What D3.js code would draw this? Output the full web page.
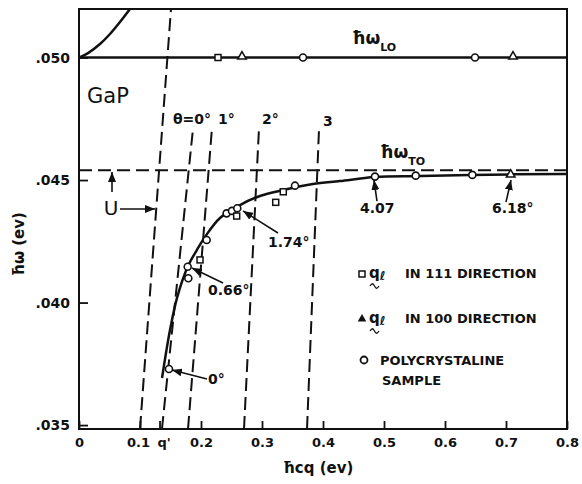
<!DOCTYPE html>
<html>
<head>
<meta charset="utf-8">
<script src="https://cdn.jsdelivr.net/npm/d3@7"></script>
<style>
  body { margin: 0; background: #fff; }
  text { font-family: "DejaVu Sans", sans-serif; fill: #111; }
</style>
</head>
<body>
<div id="chart"></div>
<script>

// ---- data ----
var xTicks = [0, 0.1, 0.2, 0.3, 0.4, 0.5, 0.6, 0.7, 0.8];
var xTickLabels = ["0", "0.1", "0.2", "0.3", "0.4", "0.5", "0.6", "0.7", "0.8"];
var yTicks = [0.035, 0.040, 0.045, 0.050];
var yTickLabels = [".035", ".040", ".045", ".050"];
var qPrime = 0.132;

var hwLO = 0.050;
var hwTO = 0.0454;

// lower polariton branch (solid curve)
var lowerQ = [0.1361, 0.1426, 0.1492, 0.1607, 0.1787, 0.1934, 0.2066, 0.2311, 0.2639, 0.2967, 0.3344, 0.3836, 0.4279, 0.4852, 0.5590, 0.6410, 0.7984];
var lowerW = [0.03692, 0.03794, 0.03888, 0.04019, 0.04149, 0.04215, 0.04268, 0.04345, 0.04398, 0.04435, 0.04459, 0.04484, 0.04496, 0.04512, 0.04516, 0.04521, 0.04525];

// upper branch (top-left corner)
var upperQ = [0, 0.0148, 0.0344, 0.0508, 0.0672, 0.0836];
var upperW = [0.0500, 0.05018, 0.05055, 0.05096, 0.05145, 0.05198];

// measured points
var circleQ = [0.1475, 0.1792, 0.1782, 0.2093, 0.2420, 0.2508, 0.2595, 0.3541, 0.4852, 0.5520, 0.6448, 0.3672, 0.6492];
var circleW = [0.03729, 0.04099, 0.04146, 0.04255, 0.04364, 0.04374, 0.04385, 0.04477, 0.04514, 0.04518, 0.04521, 0.0500, 0.0500];
var squareQ = [0.1984, 0.2585, 0.3225, 0.3349, 0.2279];
var squareW = [0.04174, 0.04353, 0.04409, 0.04452, 0.0500];
var triQ = [0.7077, 0.2672, 0.7115];
var triW = [0.04518, 0.0500, 0.0500];

// scattering angle lines (dashed): bottom and top end
var angleNames = ["U", "θ=0°", "1°", "2°", "3"];
var angleQ0 = [0.1000, 0.1360, 0.1787, 0.2705, 0.3738];
var angleW0 = [0.03484, 0.03484, 0.03484, 0.03484, 0.03484];
var angleQ1 = [0.1508, 0.1870, 0.2180, 0.2951, 0.3934];
var angleW1 = [0.05198, 0.04712, 0.04712, 0.04712, 0.04704];

// ---- layout ----
var W = 582, H = 484;
var margin = {top: 9, right: 15, bottom: 55, left: 79};

var svg = d3.select("#chart").append("svg")
    .attr("width", W)
    .attr("height", H);

var x = d3.scaleLinear().domain([0, 0.8]).range([margin.left, W - margin.right]);
var y = d3.scaleLinear().domain([0.03484, 0.05198]).range([H - margin.bottom, margin.top]);

var defs = svg.append("defs");
defs.append("marker")
    .attr("id", "arr")
    .attr("markerUnits", "userSpaceOnUse")
    .attr("viewBox", "0 0 10 8")
    .attr("refX", 10).attr("refY", 4)
    .attr("markerWidth", 10).attr("markerHeight", 8)
    .attr("orient", "auto")
  .append("path")
    .attr("d", "M0,0 L10,4 L0,8 Z")
    .attr("fill", "#111");
defs.append("clipPath").attr("id", "clip")
  .append("rect")
    .attr("x", x(0)).attr("y", y.range()[1])
    .attr("width", x(0.8) - x(0)).attr("height", y.range()[0] - y.range()[1]);

// axes
var xAxis = d3.axisBottom(x)
    .tickValues(xTicks.concat([qPrime]))
    .tickSize(-8)
    .tickPadding(9)
    .tickFormat(function(d) {
      var i = xTicks.indexOf(d);
      return i >= 0 ? xTickLabels[i] : "q'";
    });
var gx = svg.append("g")
    .attr("transform", "translate(0," + y.range()[0] + ")")
    .call(xAxis);
gx.select(".domain").remove();
gx.selectAll("line").attr("stroke", "#111").attr("stroke-width", 1.8);
gx.selectAll("text").attr("font-size", 13).attr("font-weight", "bold").style("font-family", "DejaVu Sans");
gx.selectAll("text").filter(function(d) { return d === qPrime; }).attr("dx", 4);
gx.selectAll("text").filter(function(d) { return d === 0.1; }).attr("dx", -2);

var yAxis = d3.axisLeft(y)
    .tickValues(yTicks)
    .tickSize(-9)
    .tickPadding(9)
    .tickFormat(function(d, i) { return yTickLabels[i]; });
var gy = svg.append("g")
    .attr("transform", "translate(" + x(0) + ",0)")
    .call(yAxis);
gy.select(".domain").remove();
gy.selectAll("line").attr("stroke", "#111").attr("stroke-width", 1.8);
gy.selectAll("text").attr("font-size", 14).attr("font-weight", "bold").style("font-family", "DejaVu Sans");

// frame
svg.append("rect")
    .attr("x", x(0)).attr("y", y.range()[1])
    .attr("width", x(0.8) - x(0)).attr("height", y.range()[0] - y.range()[1])
    .attr("fill", "none").attr("stroke", "#111").attr("stroke-width", 2);

var plot = svg.append("g").attr("clip-path", "url(#clip)");

// dashed angle lines
angleNames.forEach(function(n, i) {
  plot.append("line")
      .attr("x1", x(angleQ0[i])).attr("y1", y(angleW0[i]))
      .attr("x2", x(angleQ1[i])).attr("y2", y(angleW1[i]))
      .attr("stroke", "#111").attr("stroke-width", 2)
      .attr("stroke-dasharray", "13,6");
});

// TO dashed line
plot.append("line")
    .attr("x1", x(0)).attr("x2", x(0.8))
    .attr("y1", y(hwTO)).attr("y2", y(hwTO))
    .attr("stroke", "#111").attr("stroke-width", 2)
    .attr("stroke-dasharray", "13,6");

// LO solid line
plot.append("line")
    .attr("x1", x(0)).attr("x2", x(0.8))
    .attr("y1", y(hwLO)).attr("y2", y(hwLO))
    .attr("stroke", "#111").attr("stroke-width", 2.5);

var line = d3.line()
    .x(function(d) { return x(d[0]); })
    .y(function(d) { return y(d[1]); })
    .curve(d3.curveCatmullRom.alpha(0.5));

plot.append("path")
    .datum(lowerQ.map(function(q, i) { return [q, lowerW[i]]; }))
    .attr("d", line)
    .attr("fill", "none").attr("stroke", "#111").attr("stroke-width", 2.5);

plot.append("path")
    .datum(upperQ.map(function(q, i) { return [q, upperW[i]]; }))
    .attr("d", line)
    .attr("fill", "none").attr("stroke", "#111").attr("stroke-width", 2.5);

// markers
svg.append("g").selectAll("circle")
    .data(circleQ.map(function(q, i) { return [q, circleW[i]]; }))
    .enter().append("circle")
    .attr("cx", function(d) { return x(d[0]); })
    .attr("cy", function(d) { return y(d[1]); })
    .attr("r", 3.5)
    .attr("fill", "#fff").attr("stroke", "#111").attr("stroke-width", 1.6);

svg.append("g").selectAll("rect")
    .data(squareQ.map(function(q, i) { return [q, squareW[i]]; }))
    .enter().append("rect")
    .attr("x", function(d) { return x(d[0]) - 3; })
    .attr("y", function(d) { return y(d[1]) - 3; })
    .attr("width", 6).attr("height", 6)
    .attr("fill", "#fff").attr("stroke", "#111").attr("stroke-width", 1.5);

var tri = d3.symbol().type(d3.symbolTriangle).size(32);
svg.append("g").selectAll("path")
    .data(triQ.map(function(q, i) { return [q, triW[i]]; }))
    .enter().append("path")
    .attr("d", tri)
    .attr("transform", function(d) { return "translate(" + x(d[0]) + "," + (y(d[1]) - 1) + ")"; })
    .attr("fill", "#fff").attr("stroke", "#111").attr("stroke-width", 1.5);

// labels on the plot
function label(q, w, s, size, weight, anchor) {
  return svg.append("text")
      .attr("x", x(q)).attr("y", y(w))
      .attr("font-size", size)
      .attr("font-weight", weight || "bold")
      .attr("text-anchor", anchor || "start")
      .text(s);
}

label(0.0131, 0.04814, "GaP", 21, "normal");
label(0.0525, 0.04357, "U", 20, "normal", "middle");
label(0.1541, 0.04729, angleNames[1], 14);
label(0.2279, 0.04729, angleNames[2], 14);
label(0.3000, 0.04729, angleNames[3], 14);
label(0.4000, 0.04721, angleNames[4], 14);
label(0.3098, 0.04227, "1.74°", 14);
label(0.2115, 0.04031, "0.66°", 14);
label(0.2115, 0.03668, "0°", 14);
label(0.4607, 0.04365, "4.07", 14);
label(0.6770, 0.04365, "6.18°", 14);

var lo = svg.append("text").attr("x", x(0.4475)).attr("y", y(0.05055)).attr("font-weight", "bold");
lo.append("tspan").attr("font-size", 17).text("ħω");
lo.append("tspan").attr("font-size", 11).attr("dy", 7).text("LO");
var to = svg.append("text").attr("x", x(0.4934)).attr("y", y(0.04590)).attr("font-weight", "bold");
to.append("tspan").attr("font-size", 17).text("ħω");
to.append("tspan").attr("font-size", 11).attr("dy", 7).text("TO");

// arrows
var arrows = [
  [0.0672, 0.04382, 0.1246, 0.04382],
  [0.0541, 0.04451, 0.0541, 0.04533],
  [0.3262, 0.04284, 0.2689, 0.04374],
  [0.2361, 0.04080, 0.1852, 0.04141],
  [0.2098, 0.03688, 0.1525, 0.03725],
  [0.4885, 0.04414, 0.4836, 0.04500],
  [0.7000, 0.04410, 0.7082, 0.04500]
];
svg.append("g").selectAll("line")
    .data(arrows)
    .enter().append("line")
    .attr("x1", function(d) { return x(d[0]); })
    .attr("y1", function(d) { return y(d[1]); })
    .attr("x2", function(d) { return x(d[2]); })
    .attr("y2", function(d) { return y(d[3]); })
    .attr("stroke", "#111").attr("stroke-width", 1.6)
    .attr("marker-end", "url(#arr)");

// legend
var legend = svg.append("g").attr("font-weight", "bold").attr("font-size", 13);
var legRows = [
  {sym: "square", y: 278, text: "IN 111 DIRECTION", q: true},
  {sym: "tri", y: 323, text: "IN 100 DIRECTION", q: true},
  {sym: "circle", y: 365, text: "POLYCRYSTALINE", q: false}
];
legRows.forEach(function(r) {
  if (r.sym === "square") {
    legend.append("rect").attr("x", 359).attr("y", r.y - 7).attr("width", 6).attr("height", 6)
        .attr("fill", "#fff").attr("stroke", "#111").attr("stroke-width", 1.5);
  } else if (r.sym === "tri") {
    legend.append("path").attr("d", tri).attr("transform", "translate(362," + (r.y - 4) + ")")
        .attr("fill", "#111");
  } else {
    legend.append("circle").attr("cx", 364).attr("cy", r.y - 5).attr("r", 3.5)
        .attr("fill", "#fff").attr("stroke", "#111").attr("stroke-width", 1.8);
  }
  if (r.q) {
    var t = legend.append("text").attr("x", 369).attr("y", r.y);
    t.append("tspan").attr("font-size", 15).text("q");
    t.append("tspan").attr("font-size", 12).attr("dy", 2).attr("font-style", "italic").text("ℓ");
    legend.append("text").attr("x", 405).attr("y", r.y).text(r.text);
    // tilde under q (vector mark)
    var ty = r.y + 8;
    legend.append("path")
        .attr("d", "M370," + ty + " c2,-3 3,-3 4.5,0 s2.5,3 4.5,0")
        .attr("fill", "none").attr("stroke", "#111").attr("stroke-width", 1.3);
  } else {
    legend.append("text").attr("x", 380).attr("y", r.y).text(r.text);
    legend.append("text").attr("x", 382).attr("y", r.y + 20).text("SAMPLE");
  }
});

// axis titles
svg.append("text")
    .attr("x", 283).attr("y", 473)
    .attr("font-size", 15).attr("font-weight", "bold")
    .text("ħcq (ev)");
svg.append("text")
    .attr("transform", "translate(24,244) rotate(-90)")
    .attr("text-anchor", "middle")
    .attr("font-size", 15).attr("font-weight", "bold")
    .text("ħω (ev)");

</script>
</body>
</html>
